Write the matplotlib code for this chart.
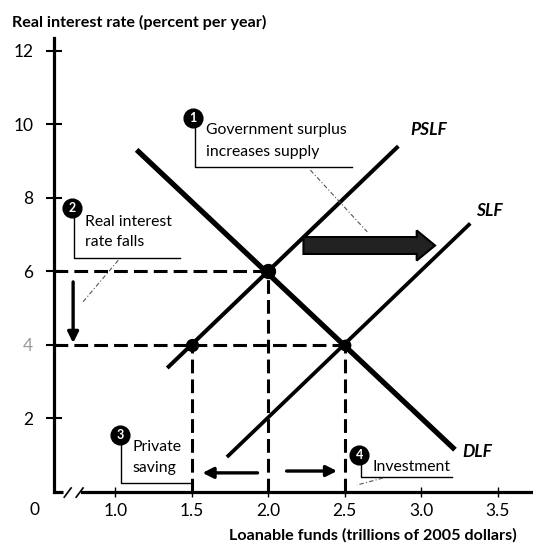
import matplotlib.pyplot as plt
from matplotlib.patches import FancyArrow

plt.rcParams['font.family'] = ['Lato', 'DejaVu Sans']

# supply and demand curves (x: trillions of 2005 dollars, y: percent per year)
dlf_x = [1.14, 3.22]
dlf_y = [9.3, 1.15]
pslf_x = [1.34, 2.85]
pslf_y = [3.37, 9.4]
slf_x = [1.73, 3.32]
slf_y = [0.95, 7.3]

# old and new equilibrium, private saving at the new rate
eq_x = [2.0, 2.5]
eq_y = [6.0, 4.0]
saving_x = 1.5
saving_y = 4.0

x_ticks = [1.0, 1.5, 2.0, 2.5, 3.0, 3.5]
x_labels = ['1.0', '1.5', '2.0', '2.5', '3.0', '3.5']
y_ticks = [2, 4, 6, 8, 10, 12]
y_labels = ['2', '4', '6', '8', '10', '12']

fig = plt.figure(figsize=(5.33, 5.46), dpi=100)
ax = fig.add_axes([0.1013, 0.0989, 0.8987, 0.8315])
ax.set_xlim(0.6, 3.73)
ax.set_ylim(0, 12.34)
x0 = ax.get_xlim()[0]

for s in ['top', 'right']:
    ax.spines[s].set_visible(False)
ax.spines['left'].set_linewidth(2.3)
ax.spines['bottom'].set_linewidth(2.3)
ax.spines['bottom'].set_bounds(0.785, 3.73)

ax.set_xticks(x_ticks, x_labels)
ax.set_yticks(y_ticks, y_labels)
ax.tick_params(axis='y', direction='inout', length=11, width=1.5, pad=9.5, labelsize=12.5)
ax.tick_params(axis='x', direction='inout', length=7, width=1, pad=4.5, labelsize=12.5)
ax.get_yticklabels()[1].set_color('#9a9a9a')

# axis break near the origin
ax.plot([x0, 0.66], [0, 0], color='black', lw=2.3, clip_on=False, solid_capstyle='butt')
ax.plot([0.667, 0.712], [-0.14, 0.11], color='black', lw=1.2, clip_on=False)
ax.plot([0.745, 0.79], [-0.14, 0.11], color='black', lw=1.2, clip_on=False)
fig.text(34 / 533, 1 - 510 / 546, '0', fontsize=12.5, ha='center', va='center')

# curves
ax.plot(dlf_x, dlf_y, color='black', lw=3.8, solid_capstyle='butt')
ax.plot(pslf_x, pslf_y, color='black', lw=2.9, solid_capstyle='butt')
ax.plot(slf_x, slf_y, color='black', lw=2.7, solid_capstyle='butt')

# dashed guides
dash = dict(color='black', lw=2.2, dashes=(4.5, 2))
ax.plot([x0, eq_x[0]], [eq_y[0], eq_y[0]], **dash)
ax.plot([x0, eq_x[1]], [eq_y[1], eq_y[1]], **dash)
ax.plot([eq_x[0], eq_x[0]], [0, eq_y[0]], **dash)
ax.plot([eq_x[1], eq_x[1]], [0, eq_y[1]], **dash)
ax.plot([saving_x, saving_x], [0, saving_y], **dash)

ax.plot(eq_x[0], eq_y[0], 'o', color='black', ms=10, zorder=4)
ax.plot(eq_x[1], eq_y[1], 'o', color='black', ms=7.5, zorder=4)
ax.plot(saving_x, saving_y, 'o', color='black', ms=8.5, zorder=4)

# curve labels
ax.text(2.93, 9.84, 'PSLF', fontsize=12.5, fontweight='bold', fontstyle='italic', va='center')
ax.text(3.36, 7.64, 'SLF', fontsize=12.5, fontweight='bold', fontstyle='italic', va='center')
ax.text(3.27, 1.09, 'DLF', fontsize=12.5, fontweight='bold', fontstyle='italic', va='center')

# supply shift arrow
ax.add_patch(FancyArrow(2.23, 6.7, 0.86, 0, width=0.46, head_width=0.82, head_length=0.12,
                        length_includes_head=True, fc='#222222', ec='black', lw=1.5, zorder=3))

# small arrows
arr = dict(arrowstyle='-|>', color='black', lw=2.4, mutation_scale=16, shrinkA=0, shrinkB=0)
ax.annotate('', xy=(0.725, 4.05), xytext=(0.725, 5.71), arrowprops=arr)
ax.annotate('', xy=(1.57, 0.52), xytext=(1.93, 0.52), arrowprops=arr)
ax.annotate('', xy=(2.45, 0.57), xytext=(2.12, 0.57), arrowprops=arr)


def badge(x, y, n):
    ax.plot(x, y, 'o', ms=13.5, color='black', zorder=6, clip_on=False)
    ax.text(x, y, n, color='white', ha='center', va='center', fontsize=9,
            fontweight='bold', zorder=7)


thin = dict(color='black', lw=1.0)
leader = dict(color='#555555', lw=0.8, linestyle=(0, (4, 2, 1, 2)))

# 1 government surplus
badge(1.51, 10.16, '1')
ax.plot([1.523, 1.523, 2.55], [9.95, 8.83, 8.83], **thin)
ax.text(1.595, 9.84, 'Government surplus', fontsize=11.3, va='center')
ax.text(1.595, 9.24, 'increases supply', fontsize=11.3, va='center')
ax.plot([2.275, 2.647], [8.75, 7.07], **leader)

# 2 real interest rate falls
badge(0.719, 7.72, '2')
ax.plot([0.732, 0.732, 1.425], [7.5, 6.36, 6.36], **thin)
ax.text(0.804, 7.34, 'Real interest', fontsize=11.3, va='center')
ax.text(0.804, 6.79, 'rate falls', fontsize=11.3, va='center')
ax.plot([1.02, 0.784], [6.30, 5.14], **leader)

# 3 private saving
badge(1.033, 1.55, '3')
ax.plot([1.039, 1.039, 1.49], [1.35, 0.245, 0.245], **thin)
ax.text(1.111, 1.22, 'Private', fontsize=11.3, va='center')
ax.text(1.111, 0.65, 'saving', fontsize=11.3, va='center')

# 4 investment
badge(2.595, 1.0, '4')
ax.plot([2.608, 2.608, 3.20], [0.8, 0.41, 0.41], **thin)
ax.text(2.68, 0.68, 'Investment', fontsize=11.3, va='center')
ax.plot([2.75, 2.58], [0.38, 0.19], **leader)

# axis titles
fig.text(12 / 533, 1 - 22 / 546, 'Real interest rate (percent per year)',
         fontsize=11.6, fontweight='bold', va='center', ha='left')
fig.text(517 / 533, 1 - 535 / 546, 'Loanable funds (trillions of 2005 dollars)',
         fontsize=11.6, fontweight='bold', va='center', ha='right')

fig.savefig('out.png', dpi=100)
